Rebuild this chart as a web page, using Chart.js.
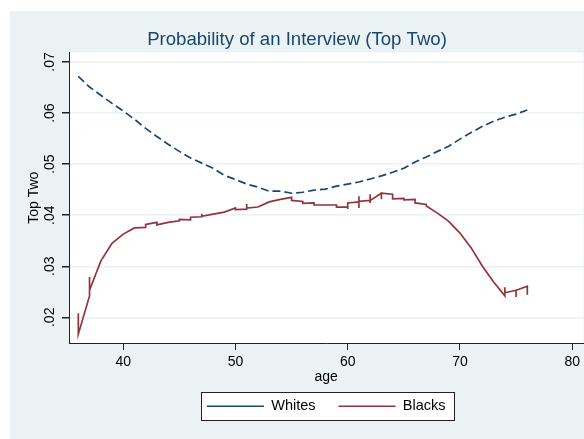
<!DOCTYPE html>
<html>
<head>
<meta charset="utf-8">
<script src="https://cdn.jsdelivr.net/npm/chart.js@4.4.0/dist/chart.umd.min.js"></script>
<style>
  html, body { margin: 0; padding: 0; background: #fff; overflow: hidden; }
  #wrap { position: absolute; left: 10px; top: 11px; width: 574px; height: 428px; background: #eaf2f3; }
</style>
</head>
<body>
<div id="wrap"><canvas id="chart" width="574" height="428"></canvas></div>
<script>
// Whites: one value per age
const whiteAges = [36, 37, 38, 39, 40, 41, 42, 43, 44, 45, 46, 47, 48, 49, 50, 51, 52, 53, 54, 55, 56,
  57, 58, 59, 60, 61, 62, 63, 64, 65, 66, 67, 68, 69, 70, 71, 72, 73, 74, 75, 76];
const whiteValues = [0.0672, 0.0651, 0.0635, 0.0619, 0.0604, 0.0588, 0.0570, 0.0554, 0.0539, 0.0525,
  0.0512, 0.0502, 0.0492, 0.0478, 0.0470, 0.0461, 0.0455, 0.0447, 0.0447, 0.0443, 0.0445,
  0.0449, 0.0451, 0.0457, 0.0461, 0.0465, 0.0471, 0.0477, 0.0484, 0.0492, 0.0504, 0.0514,
  0.0525, 0.0535, 0.0549, 0.0562, 0.0574, 0.0584, 0.0592, 0.0598, 0.0606];

// Blacks: several observations at some ages (vertical jumps in the line)
const blackAges = [36, 36, 37, 37, 37, 38, 39, 40, 41, 42, 42, 43, 43, 44, 45, 45, 46, 46, 47, 47, 47,
  48, 49, 50, 50, 51, 51, 51, 52, 53, 54, 55, 55, 56, 56, 57, 57, 58, 59, 59, 60, 60, 60,
  61, 61, 61, 61, 62, 62, 62, 62, 63, 63, 63, 64, 64, 65, 65, 66, 66, 67, 67,
  68, 69, 70, 71, 72, 73, 74, 74, 74, 75, 75, 75, 76, 76];
const blackValues = [0.0208, 0.0167, 0.0242, 0.0279, 0.0253, 0.0310, 0.0345, 0.0363, 0.0375,
  0.0376, 0.0382, 0.0386, 0.0381, 0.0386, 0.0389, 0.0392, 0.0391, 0.0396, 0.0397, 0.0403, 0.0398,
  0.0402, 0.0406, 0.0414, 0.0411, 0.0412, 0.0422, 0.0414, 0.0416, 0.0426, 0.0431, 0.0435, 0.0429,
  0.0427, 0.0423, 0.0424, 0.0420, 0.0420, 0.0420, 0.0416, 0.0416, 0.0412, 0.0424,
  0.0426, 0.0437, 0.0414, 0.0427, 0.0429, 0.0441, 0.0424, 0.0429, 0.0443, 0.0431, 0.0443,
  0.0441, 0.0432, 0.0433, 0.0430, 0.0431, 0.0424, 0.0421, 0.0418,
  0.0404, 0.0388, 0.0365, 0.0336, 0.0300, 0.0269, 0.0242, 0.0259, 0.0248,
  0.0253, 0.0240, 0.0253, 0.0261, 0.0244];

const xTicks = [40, 50, 60, 70, 80];
const yTicks = [0.02, 0.03, 0.04, 0.05, 0.06, 0.07];
const yTickLabels = [".02", ".03", ".04", ".05", ".06", ".07"];

const navy = "#1a476f";
const maroon = "#90353b";
const font = "'Liberation Sans', Arial, sans-serif";

const toPoints = (xs, ys) => xs.map((x, i) => ({ x: x, y: ys[i] }));

// white plot area + framed legend
const frames = {
  id: "frames",
  beforeDraw(chart) {
    const ctx = chart.ctx;
    const a = chart.chartArea;
    ctx.save();
    ctx.fillStyle = "#fff";
    ctx.fillRect(a.left, a.top, a.right - a.left, a.bottom - a.top);
    const boxes = chart.legend.legendHitBoxes;
    if (boxes && boxes.length) {
      const first = boxes[0];
      const last = boxes[boxes.length - 1];
      const cy = first.top + first.height / 2;
      const l = Math.round(first.left - 6) + 0.5;
      const r = Math.round(last.left + last.width + 9) + 0.5;
      const t = Math.round(cy - 14) + 0.5;
      ctx.fillRect(l, t, r - l, 28);
      ctx.strokeStyle = "#222";
      ctx.lineWidth = 1;
      ctx.strokeRect(l, t, r - l, 28);
    }
    ctx.restore();
  },
};

const chart = new Chart(document.getElementById("chart"), {
  type: "scatter",
  data: {
    datasets: [
      {
        label: "Whites",
        data: toPoints(whiteAges, whiteValues),
        showLine: true,
        borderColor: navy,
        backgroundColor: navy,
        borderWidth: 1.7,
        borderDash: [8, 4],
        pointRadius: 0,
        tension: 0,
      },
      {
        label: "Blacks",
        data: toPoints(blackAges, blackValues),
        showLine: true,
        borderColor: maroon,
        backgroundColor: maroon,
        borderWidth: 1.7,
        pointRadius: 0,
        tension: 0,
      },
    ],
  },
  options: {
    responsive: false,
    animation: false,
    layout: { padding: { left: 0, right: 0, top: 0, bottom: 15.5 } },
    plugins: {
      title: {
        display: true,
        text: "Probability of an Interview (Top Two)",
        color: navy,
        font: { family: font, size: 18.6, weight: "normal" },
        padding: { top: 18, bottom: 1 },
      },
      legend: {
        position: "bottom",
        fullSize: false,
        labels: {
          usePointStyle: true,
          pointStyle: "line",
          pointStyleWidth: 57,
          padding: 23,
          color: "#000",
          font: { family: font, size: 14.5 },
        },
      },
      tooltip: { enabled: false },
    },
    scales: {
      x: {
        type: "linear",
        min: 35.17,
        max: 81.0,
        afterBuildTicks: (scale) => { scale.ticks = xTicks.map((v) => ({ value: v })); },
        afterFit: (scale) => { scale.height = 33; },
        ticks: { color: "#000", padding: 4, font: { family: font, size: 14 } },
        grid: { display: true, drawOnChartArea: false, drawTicks: true, tickLength: 7, tickColor: "#222" },
        border: { display: true, color: "#222", width: 1 },
        title: {
          display: true,
          text: "age",
          color: "#000",
          font: { family: font, size: 14 },
          padding: { top: 0, bottom: -9.5 },
        },
      },
      y: {
        type: "linear",
        min: 0.01497,
        max: 0.0719,
        afterBuildTicks: (scale) => { scale.ticks = yTicks.map((v) => ({ value: v })); },
        afterFit: (scale) => { scale.width = 59; },
        ticks: {
          color: "#000",
          padding: 2,
          minRotation: 90,
          maxRotation: 90,
          crossAlign: "center",
          font: { family: font, size: 14 },
          callback: (value, index) => yTickLabels[index],
        },
        grid: { color: "#eaf2f3", lineWidth: 1.5, tickLength: 7, tickColor: "#222" },
        border: { display: true, color: "#222", width: 1 },
        title: {
          display: true,
          text: "Top Two",
          color: "#000",
          font: { family: font, size: 14 },
          padding: { top: 15.5, bottom: 0 },
        },
      },
    },
  },
  plugins: [frames],
});
</script>
</body>
</html>
